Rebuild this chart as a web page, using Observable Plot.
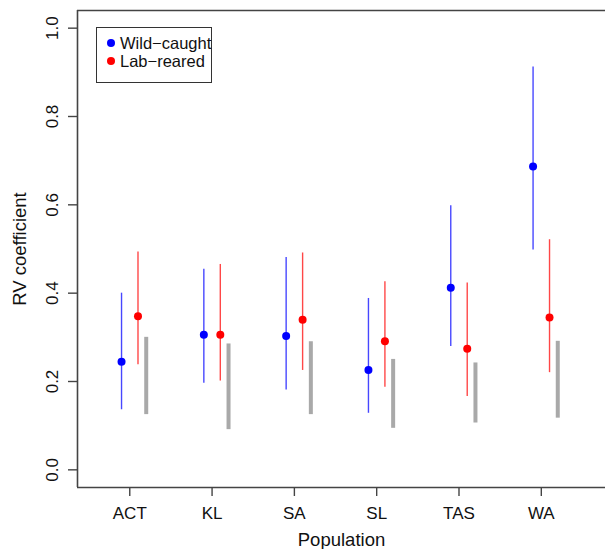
<!DOCTYPE html>
<html>
<head>
<meta charset="utf-8">
<script src="https://cdn.jsdelivr.net/npm/d3@7"></script>
<script src="https://cdn.jsdelivr.net/npm/@observablehq/plot@0.6"></script>
<style>
  html, body { margin: 0; padding: 0; background: #fff; overflow: hidden; }
  #wrap { position: relative; width: 605px; height: 549px; overflow: hidden; font-family: "Liberation Sans", Arial, Helvetica, sans-serif; }
  #legend { position: absolute; left: 96px; top: 27px; width: 116px; height: 56px; border: 1.3px solid #333; box-sizing: border-box; background: #fff; }
  .item { position: absolute; left: 0; font-size: 16.5px; color: #111; white-space: nowrap; line-height: 18px; }
  .dot { position: absolute; width: 8px; height: 8px; border-radius: 50%; }
</style>
</head>
<body>
<div id="wrap"></div>
<script>
// ---- data ----
const populations = ["ACT", "KL", "SA", "SL", "TAS", "WA"];
const seriesNames = ["Wild-caught", "Lab-reared"];
const seriesColors = ["#0000ff", "#ff0000"];

const wildMean = [0.245, 0.306, 0.303, 0.226, 0.412, 0.687];
const wildLow  = [0.136, 0.196, 0.181, 0.128, 0.279, 0.498];
const wildHigh = [0.400, 0.454, 0.481, 0.388, 0.598, 0.912];

const labMean = [0.348, 0.306, 0.340, 0.291, 0.274, 0.345];
const labLow  = [0.238, 0.201, 0.225, 0.187, 0.166, 0.220];
const labHigh = [0.493, 0.465, 0.491, 0.426, 0.423, 0.521];

const nullLow  = [0.125, 0.091, 0.125, 0.094, 0.106, 0.117];
const nullHigh = [0.300, 0.285, 0.290, 0.250, 0.242, 0.291];

const yTicks = [0.0, 0.2, 0.4, 0.6, 0.8, 1.0];
const xTicks = [1, 2, 3, 4, 5, 6];

// ---- build rows ----
const wild = populations.map((p, i) => ({pos: i + 1, mean: wildMean[i], lo: wildLow[i], hi: wildHigh[i]}));
const lab = populations.map((p, i) => ({pos: i + 1, mean: labMean[i], lo: labLow[i], hi: labHigh[i]}));
const nul = populations.map((p, i) => ({pos: i + 1, lo: nullLow[i], hi: nullHigh[i]}));

const font = "Liberation Sans, Arial, Helvetica, sans-serif";
const xDomain = [0.365, 6.78];
const yDomain = [-0.04, 1.04];
const boxStyle = {stroke: "#444", strokeWidth: 1.6};

const chart = Plot.plot({
  width: 605,
  height: 549,
  marginLeft: 77,
  marginRight: 0,
  marginTop: 10,
  marginBottom: 62,
  style: {fontFamily: font, background: "#fff", color: "#222"},
  x: {domain: xDomain, axis: null},
  y: {domain: yDomain, axis: null},
  marks: [
    // null-distribution bars (grey)
    Plot.ruleX(nul, {x: d => d.pos + 0.2, y1: "lo", y2: "hi", stroke: "#a9a9a9", strokeWidth: 4, strokeLinecap: "butt"}),
    // wild-caught intervals
    Plot.ruleX(wild, {x: d => d.pos - 0.1, y1: "lo", y2: "hi", stroke: seriesColors[0], strokeWidth: 1.4, strokeOpacity: 0.72}),
    Plot.dot(wild, {x: d => d.pos - 0.1, y: "mean", r: 4, fill: seriesColors[0], stroke: "none"}),
    // lab-reared intervals
    Plot.ruleX(lab, {x: d => d.pos + 0.1, y1: "lo", y2: "hi", stroke: seriesColors[1], strokeWidth: 1.4, strokeOpacity: 0.72}),
    Plot.dot(lab, {x: d => d.pos + 0.1, y: "mean", r: 4, fill: seriesColors[1], stroke: "none"}),
    // box: top, bottom and left sides along the scale domain edges (right side cropped in the reference)
    Plot.ruleY(yDomain, {...boxStyle}),
    Plot.ruleX([xDomain[0]], {...boxStyle}),
    // y axis ticks and labels
    Plot.axisY({ticks: yTicks, tickSize: 9, tickFormat: () => "", stroke: "#444", strokeWidth: 1.4, label: null}),
    Plot.text(yTicks, {y: d => d, text: d => d.toFixed(1), frameAnchor: "left", dx: -25, rotate: -90, textAnchor: "middle", lineAnchor: "middle", fontSize: 17, fill: "#111"}),
    // x axis ticks and labels
    Plot.axisX({ticks: xTicks, tickSize: 9, tickPadding: 10, tickFormat: d => populations[d - 1], fontSize: 17, stroke: "#444", strokeWidth: 1.4, label: null, fill: "#111"}),
    // axis titles
    Plot.text(["Population"], {text: d => d, frameAnchor: "bottom", dy: 53, lineAnchor: "middle", fontSize: 18.5, fill: "#111"}),
    Plot.text(["RV coefficient"], {text: d => d, frameAnchor: "left", dx: -57, rotate: -90, textAnchor: "middle", lineAnchor: "middle", fontSize: 18.5, fill: "#111"})
  ]
});

const wrap = document.getElementById("wrap");
wrap.appendChild(chart);

// legend overlay inside the plot area
const legend = document.createElement("div");
legend.id = "legend";
seriesNames.forEach((name, i) => {
  const dot = document.createElement("div");
  dot.className = "dot";
  dot.style.background = seriesColors[i];
  dot.style.left = "10px";
  dot.style.top = (15 + i * 18 - 4) + "px";
  legend.appendChild(dot);
  const item = document.createElement("div");
  item.className = "item";
  item.style.left = "23px";
  item.style.top = (15 + i * 18 - 9) + "px";
  item.textContent = name.replace("-", "\u2212");
  legend.appendChild(item);
});
wrap.appendChild(legend);
</script>
</body>
</html>
